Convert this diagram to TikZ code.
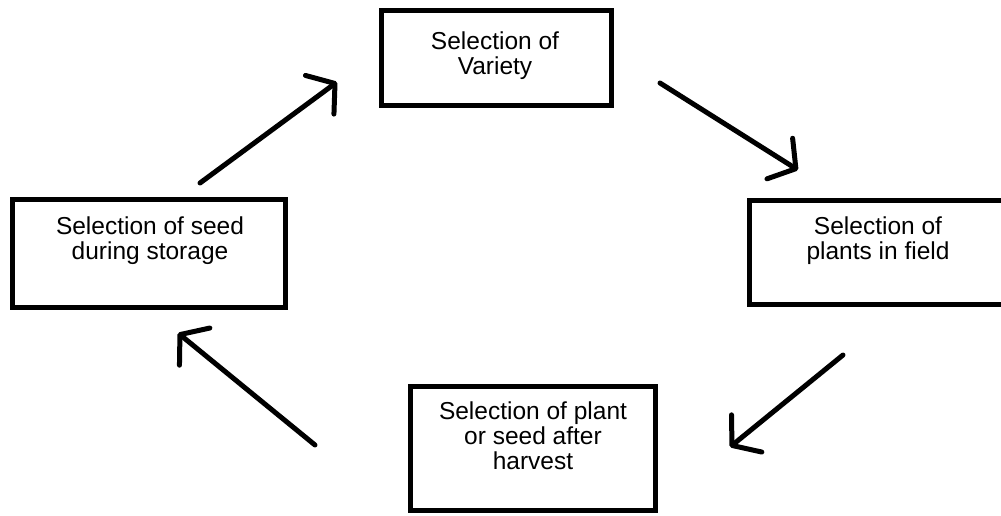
\documentclass[tikz,border=0pt]{standalone}
\usepackage{fontspec}
\setmainfont{Liberation Sans}
\usetikzlibrary{arrows.meta}
\tikzset{
  box/.style={draw=black, line width=5pt, inner sep=0pt, fill=white},
  lbl/.style={align=center, inner sep=0pt, font=\fontsize{24.5}{25}\selectfont},
  flow/.style={line width=5pt, line cap=round, line join=round,
    -{Straight Barb[length=19pt, width=48pt, round]}}
}
\begin{document}
\begin{tikzpicture}[x=1pt,y=-1pt]
\useasboundingbox (0,0) rectangle (1001,515);
\clip (0,0) rectangle (1001,515);
\fill[white] (0,0) rectangle (1001,515);

% boxes
\node[box, minimum width=230pt, minimum height=95pt]  (top)    at (496,58)    {};
\node[box, minimum width=273pt, minimum height=108pt] (left)   at (149,253.5) {};
\node[box, minimum width=259pt, minimum height=104pt] (right)  at (879,252.5) {};
\node[box, minimum width=245pt, minimum height=124pt] (bottom) at (533,448.5) {};

% labels
\node[lbl] (topt)    at (495,56)  {Selection of\\Variety};
\node[lbl] (leftt)   at (150,241) {Selection of seed\\during storage};
\node[lbl] (rightt)  at (878,241) {Selection of\\plants in field};
\node[lbl] (bottomt) at (533,436) {Selection of plant\\or seed after\\harvest};

% arrow end points
\coordinate (a1s) at (200,183); \coordinate (a1e) at (337,82);
\coordinate (a2s) at (660,83);  \coordinate (a2e) at (798,170);
\coordinate (a3s) at (843,355); \coordinate (a3e) at (730,447);
\coordinate (a4s) at (315,445); \coordinate (a4e) at (178,333);

\draw[flow] (a1s) -- (a1e);
\draw[flow] (a2s) -- (a2e);
\draw[flow] (a3s) -- (a3e);
\draw[flow] (a4s) -- (a4e);
\end{tikzpicture}
\end{document}
